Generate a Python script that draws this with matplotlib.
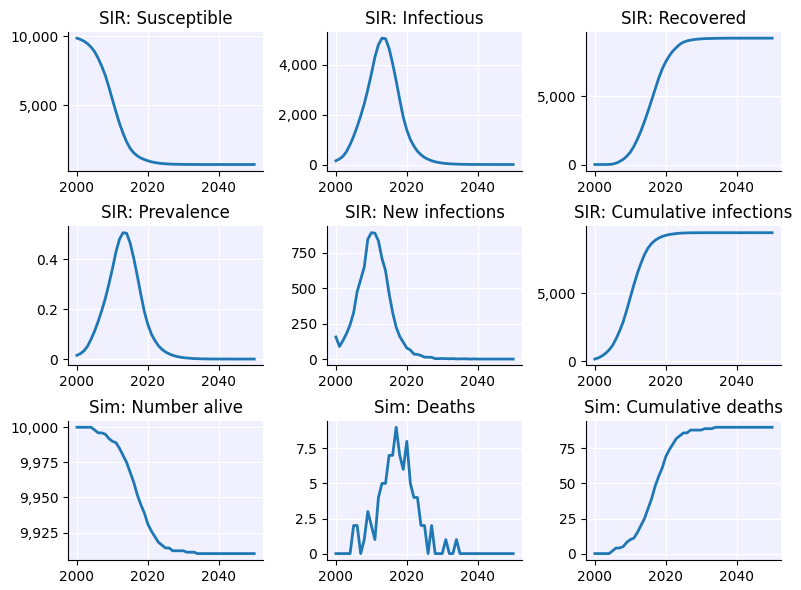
import matplotlib
matplotlib.use("Agg")
import matplotlib.pyplot as plt
from matplotlib.ticker import FuncFormatter, MaxNLocator

years = list(range(2000, 2051))

susceptible = [9850, 9760, 9630, 9450, 9200, 8870, 8390, 7820, 7160, 6320,
               5420, 4530, 3690, 2980, 2360, 1890, 1570, 1350, 1190, 1080,
               990, 915, 860, 820, 790, 770, 755, 745, 738, 733,
               729, 726, 724, 722, 721, 720, 720, 720, 720, 720,
               720, 720, 720, 720, 720, 720, 720, 720, 720, 720, 720]

infectious = [150, 220, 330, 520, 800, 1130, 1520, 1950, 2430, 3000,
              3620, 4300, 4800, 5060, 5040, 4650, 4050, 3350, 2600, 1900,
              1380, 1000, 740, 530, 390, 280, 210, 150, 110, 80,
              56, 40, 28, 20, 14, 10, 7, 5, 3, 2,
              2, 1, 1, 1, 0, 0, 0, 0, 0, 0, 0]

recovered = [0, 0, 0, 0, 5, 30, 100, 220, 380, 600,
             900, 1320, 1850, 2450, 3150, 3900, 4700, 5500, 6300, 6980,
             7520, 7950, 8300, 8560, 8800, 8950, 9040, 9100, 9140, 9170,
             9190, 9205, 9215, 9222, 9228, 9232, 9235, 9237, 9239, 9240,
             9240, 9240, 9240, 9240, 9240, 9240, 9240, 9240, 9240, 9240, 9240]

prevalence = [0.015, 0.022, 0.033, 0.052, 0.080, 0.113, 0.152, 0.195, 0.243, 0.300,
              0.362, 0.430, 0.481, 0.507, 0.505, 0.466, 0.406, 0.336, 0.261, 0.191,
              0.139, 0.100, 0.074, 0.053, 0.039, 0.028, 0.021, 0.015, 0.011, 0.008,
              0.0056, 0.004, 0.003, 0.002, 0.0014, 0.001, 0.0007, 0.0005, 0.0003, 0.0002,
              0.0002, 0.0001, 0.0001, 0.0001, 0, 0, 0, 0, 0, 0, 0]

new_infections = [156, 89, 131, 180, 242, 328, 477, 563, 650, 847,
                  893, 890, 835, 711, 625, 464, 330, 225, 160, 119,
                  78, 64, 35, 33, 25, 13, 13, 12, 3, 3,
                  4, 3, 2, 3, 1, 1, 2, 1, 0, 1,
                  0, 0, 0, 0, 0, 0, 0, 0, 0, 0, 0]

cum_infections = [156, 245, 380, 570, 820, 1160, 1650, 2230, 2900, 3770,
                  4690, 5610, 6470, 7200, 7840, 8320, 8660, 8890, 9055, 9175,
                  9255, 9320, 9355, 9390, 9415, 9428, 9436, 9442, 9445, 9447,
                  9449, 9450, 9450, 9450, 9450, 9450, 9450, 9450, 9450, 9450,
                  9450, 9450, 9450, 9450, 9450, 9450, 9450, 9450, 9450, 9450, 9450]

n_alive = [10000, 10000, 10000, 10000, 10000, 9998, 9996, 9996, 9995, 9992,
           9990, 9989, 9985, 9980, 9975, 9968, 9961, 9952, 9945, 9939,
           9931, 9926, 9922, 9918, 9916, 9914, 9914, 9912, 9912, 9912,
           9912, 9911, 9911, 9911, 9910, 9910, 9910, 9910, 9910, 9910,
           9910, 9910, 9910, 9910, 9910, 9910, 9910, 9910, 9910, 9910, 9910]

deaths = [0, 0, 0, 0, 0, 2, 2, 0, 1, 3,
          2, 1, 4, 5, 5, 7, 7, 9, 7, 6,
          8, 5, 4, 4, 2, 2, 0, 2, 0, 0,
          0, 1, 0, 0, 1, 0, 0, 0, 0, 0,
          0, 0, 0, 0, 0, 0, 0, 0, 0, 0, 0]

cum_deaths = [0, 0, 0, 0, 0, 2, 4, 4, 5, 8,
              10, 11, 15, 20, 25, 32, 39, 48, 55, 61,
              69, 74, 78, 82, 84, 86, 86, 88, 88, 88,
              88, 89, 89, 89, 90, 90, 90, 90, 90, 90,
              90, 90, 90, 90, 90, 90, 90, 90, 90, 90, 90]

titles = ["SIR: Susceptible", "SIR: Infectious", "SIR: Recovered",
          "SIR: Prevalence", "SIR: New infections", "SIR: Cumulative infections",
          "Sim: Number alive", "Sim: Deaths", "Sim: Cumulative deaths"]
series = [susceptible, infectious, recovered,
          prevalence, new_infections, cum_infections,
          n_alive, deaths, cum_deaths]


def fmt(v, pos):
    if abs(v - round(v)) < 1e-9:
        return f"{int(round(v)):,}"
    return f"{v:g}"


fig, axes = plt.subplots(3, 3, figsize=(8.01, 5.90), dpi=100)
for ax, title, ys in zip(axes.flat, titles, series):
    ax.set_facecolor("#f0f0ff")
    ax.grid(True, color="white", linewidth=1)
    ax.set_axisbelow(True)
    ax.plot(years, ys, color="#1f77b4", linewidth=2)
    ax.set_title(title)
    ax.spines["top"].set_visible(False)
    ax.spines["right"].set_visible(False)
    ax.yaxis.set_major_locator(MaxNLocator(nbins=4, steps=[1, 2, 2.5, 5, 10]))
    ax.xaxis.set_major_locator(MaxNLocator(nbins=4, steps=[1, 2, 2.5, 5, 10]))
    ax.yaxis.set_major_formatter(FuncFormatter(fmt))

fig.subplots_adjust(left=0.085, right=0.975, top=0.946, bottom=0.051,
                    wspace=0.328, hspace=0.40)
fig.savefig("out.png", dpi=100)
